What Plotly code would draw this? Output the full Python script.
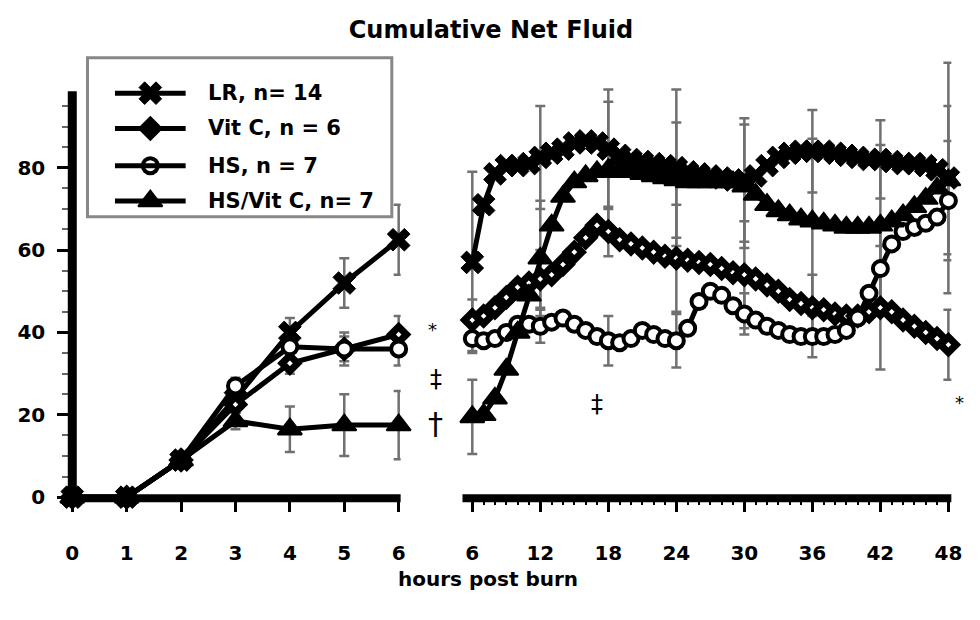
import plotly.graph_objects as go

# ---------------------------------------------------------------
# Data: cumulative net fluid (mean +/- error) by group
# ---------------------------------------------------------------
hours_early = [0, 1, 2, 3, 4, 5, 6]
lr_early = [0, 0, 9, 24, 40, 52, 62.5]
vitc_early = [0, 0, 9, 22.5, 32.5, 36, 39.5]
hs_early = [0, 0, 9, 27, 36.5, 36, 36]
hsvitc_early = [0, 0, 9, 18.5, 16.5, 17.5, 17.5]

lr_early_err = [0, 0, 1, 2, 3.5, 6, 8.5]
vitc_early_err = [0, 0, 1, 2, 2.5, 3, 4.5]
hs_early_err = [0, 0, 1, 2, 3, 4, 4]
hsvitc_early_err = [0, 0, 1, 2, 5.5, 7.5, 8.3]

hours_late = [6, 7, 8, 9, 10, 11, 12, 13, 14, 15, 16, 17, 18, 19, 20, 21, 22,
              23, 24, 25, 26, 27, 28, 29, 30, 31, 32, 33, 34, 35, 36, 37, 38,
              39, 40, 41, 42, 43, 44, 45, 46, 47, 48]
lr_late = [57, 71, 78.5, 80.5, 80.5, 81, 82.5, 83.5, 84.5, 86, 86.5, 86, 84.5,
           83, 82, 81.5, 81, 80.5, 80, 79, 78.5, 78, 77.5, 77, 77, 78, 80.5,
           82.5, 83.5, 84, 84, 84, 83.5, 83, 82.5, 82, 82, 81.5, 81, 81, 80.5,
           79.5, 77.5]
vitc_late = [43, 44, 46, 48.5, 51, 52, 53, 54, 56.5, 59.5, 63, 66, 64.5, 62.5,
             61.5, 60.5, 59.5, 58.5, 58, 57.5, 57, 56.5, 55.5, 54.5, 54, 53,
             51.5, 50, 48, 47, 46, 45.5, 44.5, 44, 44, 45, 46, 45, 43, 41.5,
             40, 38.5, 37]
hs_late = [38.5, 38, 38.5, 40, 42, 42, 41.5, 42.5, 43.5, 42, 40.5, 39, 38,
           37.5, 38.5, 40.5, 39.5, 38.5, 38, 41, 47.5, 50, 49, 46.5, 44.5, 43,
           41.5, 40.5, 39.5, 39, 39, 39, 39.5, 40.5, 43.5, 49.5, 55.5, 61.5,
           64.5, 65.5, 66.5, 68, 72]
hsvitc_late = [19.5, 20, 24, 31, 40, 49, 58, 66, 73, 76.5, 78, 79, 79.5, 79,
               79, 78.5, 78, 77.5, 77, 76.5, 76.5, 76.5, 76.5, 76.5, 75.5,
               73.5, 71, 69.5, 68.5, 67.5, 67, 66.5, 66, 65.5, 65.5, 65.5, 66,
               67, 68.5, 70.5, 72.5, 75, 77]

err_hours_late = [6, 12, 18, 24, 30, 36, 42, 48]
lr_late_err = [22, 12.5, 14.5, 19, 15, 10, 9.5, 28]
vitc_late_err = [5, 7, 6, 13, 13, 8, 15, 8.5]
hs_late_err = [3, 4, 6, 6.5, 5, 5, 10, 14.5]
hsvitc_late_err = [9, 14, 16.5, 14, 15, 20, 19.5, 18]

group_labels = ["LR, n= 14", "Vit C, n = 6", "HS, n = 7", "HS/Vit C, n= 7"]

early_ticks = [0, 1, 2, 3, 4, 5, 6]
late_ticks = [6, 12, 18, 24, 30, 36, 42, 48]
y_ticks = [0, 20, 40, 60, 80]

# ---------------------------------------------------------------
# Styling
# ---------------------------------------------------------------
W, H = 980, 620
FONT = "DejaVu Sans"
LINE_W = 5
ERR = dict(type="data", color="#707070", thickness=2.5, width=5, visible=True)

markers = [
    dict(symbol="x", size=20, color="black", line=dict(color="black", width=1)),
    dict(symbol="diamond", size=12, color="white", line=dict(color="black", width=7)),
    dict(symbol="circle", size=15, color="white", line=dict(color="black", width=4)),
    dict(symbol="triangle-up", size=21, color="black", line=dict(color="black", width=2)),
]


def px_x(x):
    return x / W


def px_y(y):
    return 1 - y / H


# panel geometry (pixel edges of the two plotting areas)
left_l, left_r = 66.5, 401.0
right_l, right_r = 464.0, 962.0
base_y = 507.0
left_top, right_top = 93.0, 40.0
unit_y = 4.2                    # px per fluid unit
unit_left = (399.0 - left_l) / 6.0
unit_right = (959.0 - 474.0) / 42.0

x_range_left = [0, (left_r - left_l) / unit_left]
x_range_right = [6 - (474.0 - right_l) / unit_right, 6 + (right_r - 474.0) / unit_right]
y_range_left = [0, (base_y - left_top) / unit_y]
y_range_right = [0, (base_y - right_top) / unit_y]

fig = go.Figure()

early = [lr_early, vitc_early, hs_early, hsvitc_early]
early_err = [lr_early_err, vitc_early_err, hs_early_err, hsvitc_early_err]
late = [lr_late, vitc_late, hs_late, hsvitc_late]
late_err = [lr_late_err, vitc_late_err, hs_late_err, hsvitc_late_err]

# error bars first so the symbols sit on top of them
for vals, errs in zip(early, early_err):
    fig.add_trace(go.Scatter(
        x=hours_early, y=vals, mode="markers", xaxis="x", yaxis="y",
        marker=dict(color="rgba(0,0,0,0)", size=2),
        error_y=dict(array=errs, **ERR), cliponaxis=False,
        showlegend=False, hoverinfo="skip"))
for vals, errs in zip(late, late_err):
    ys = [vals[hours_late.index(h)] for h in err_hours_late]
    fig.add_trace(go.Scatter(
        x=err_hours_late, y=ys, mode="markers", xaxis="x2", yaxis="y2",
        marker=dict(color="rgba(0,0,0,0)", size=2),
        error_y=dict(array=errs, **ERR), cliponaxis=False,
        showlegend=False, hoverinfo="skip"))

for name, vals_e, vals_l, mk in zip(group_labels, early, late, markers):
    fig.add_trace(go.Scatter(
        x=hours_early, y=vals_e, mode="lines+markers", name=name,
        xaxis="x", yaxis="y", line=dict(color="black", width=LINE_W),
        marker=mk, cliponaxis=False, showlegend=False))
    fig.add_trace(go.Scatter(
        x=hours_late, y=vals_l, mode="lines+markers", name=name,
        xaxis="x2", yaxis="y2", line=dict(color="black", width=LINE_W),
        marker=mk, cliponaxis=False, showlegend=False))

# ---------------------------------------------------------------
# Hand-drawn key (long line samples inside a grey box)
# ---------------------------------------------------------------
key_box = (82, 59, 392, 221)
key_rows = [95, 131, 169, 205]
key_line = (110, 182)
key_text_x = 203

shapes = []
shapes.append(dict(type="rect", xref="paper", yref="paper",
                   x0=px_x(key_box[0]), x1=px_x(key_box[2]),
                   y0=px_y(key_box[3]), y1=px_y(key_box[1]),
                   line=dict(color="#888888", width=3), fillcolor="white",
                   layer="below"))
annotations = []
for label, ry, mk in zip(group_labels, key_rows, markers):
    shapes.append(dict(type="line", xref="paper", yref="paper",
                       x0=px_x(key_line[0]), x1=px_x(key_line[1]),
                       y0=px_y(ry), y1=px_y(ry),
                       line=dict(color="black", width=LINE_W)))
    fig.add_trace(go.Scatter(
        x=[(key_line[0] + key_line[1]) / 2], y=[ry], mode="markers",
        xaxis="x3", yaxis="y3", marker=mk, showlegend=False,
        hoverinfo="skip", cliponaxis=False))
    annotations.append(dict(xref="paper", yref="paper", x=px_x(key_text_x),
                            y=px_y(ry), text=label, showarrow=False,
                            xanchor="left", yanchor="middle",
                            font=dict(family=FONT, size=21, color="black",
                                      weight="bold")))

# axis spines
shapes += [
    dict(type="line", xref="paper", yref="paper",
         x0=px_x(left_l), x1=px_x(left_l), y0=px_y(base_y + 4), y1=px_y(left_top),
         line=dict(color="black", width=9)),
    dict(type="line", xref="paper", yref="paper",
         x0=px_x(left_l - 4), x1=px_x(left_r), y0=px_y(base_y + 1), y1=px_y(base_y + 1),
         line=dict(color="black", width=8)),
    dict(type="line", xref="paper", yref="paper",
         x0=px_x(right_l), x1=px_x(right_r), y0=px_y(base_y + 1), y1=px_y(base_y + 1),
         line=dict(color="black", width=8)),
]

# significance marks (x, y, anchor, size)
sig_marks = [("*", 433, 336, "center", 18), ("\u2021", 437, 386, "center", 24),
             ("\u2020", 437, 432, "center", 30), ("\u2021", 601, 412, "center", 24),
             ("*", 977, 410, "right", 18)]
for txt, sx, sy, anchor, fs in sig_marks:
    annotations.append(dict(xref="paper", yref="paper", x=px_x(sx), y=px_y(sy),
                            text=txt, showarrow=False, xanchor=anchor,
                            yanchor="middle",
                            font=dict(family=FONT, size=fs, color="black")))

annotations.append(dict(xref="paper", yref="paper", x=px_x(490), y=px_y(590),
                        text="hours post burn", showarrow=False,
                        xanchor="center", yanchor="middle",
                        font=dict(family=FONT, size=20, color="black",
                                  weight="bold")))

tickfont = dict(family=FONT, size=20, color="black", weight="bold")
common_x = dict(showgrid=False, zeroline=False, showline=False, ticks="outside",
                ticklen=14, tickwidth=3, tickcolor="black", tickfont=tickfont,
                ticklabelstandoff=24, fixedrange=True)

fig.update_layout(
    width=W, height=H,
    margin=dict(l=0, r=0, t=0, b=0),
    paper_bgcolor="white", plot_bgcolor="rgba(0,0,0,0)",
    showlegend=False,
    title=dict(text="Cumulative Net Fluid", x=px_x(491), y=px_y(30),
               xanchor="center", yanchor="middle",
               font=dict(family=FONT, size=24, color="black", weight="bold")),
    xaxis=dict(domain=[px_x(left_l), px_x(left_r)], range=x_range_left,
               anchor="y", tickvals=early_ticks, **common_x),
    yaxis=dict(domain=[px_y(base_y), px_y(left_top)], range=y_range_left,
               anchor="x", tickvals=y_ticks, showgrid=False, zeroline=False,
               showline=False, ticks="outside", ticklen=14, tickwidth=3,
               tickcolor="black", tickfont=tickfont, ticklabelstandoff=8,
               minor=dict(dtick=5, tick0=0, ticks="outside", ticklen=9,
                          tickwidth=2, tickcolor="#666666"),
               fixedrange=True),
    xaxis2=dict(domain=[px_x(right_l), px_x(right_r)], range=x_range_right,
                anchor="y2", tickvals=late_ticks,
                minor=dict(dtick=1, tick0=6, ticks="outside", ticklen=7,
                           tickwidth=2, tickcolor="black"),
                **common_x),
    yaxis2=dict(domain=[px_y(base_y), px_y(right_top)], range=y_range_right,
                anchor="x2", visible=False, fixedrange=True),
    xaxis3=dict(domain=[0, 1], range=[0, W], anchor="y3", visible=False,
                fixedrange=True),
    yaxis3=dict(domain=[0, 1], range=[H, 0], anchor="x3", visible=False,
                fixedrange=True),
    shapes=shapes,
    annotations=annotations,
)

fig.write_html("out.html")
